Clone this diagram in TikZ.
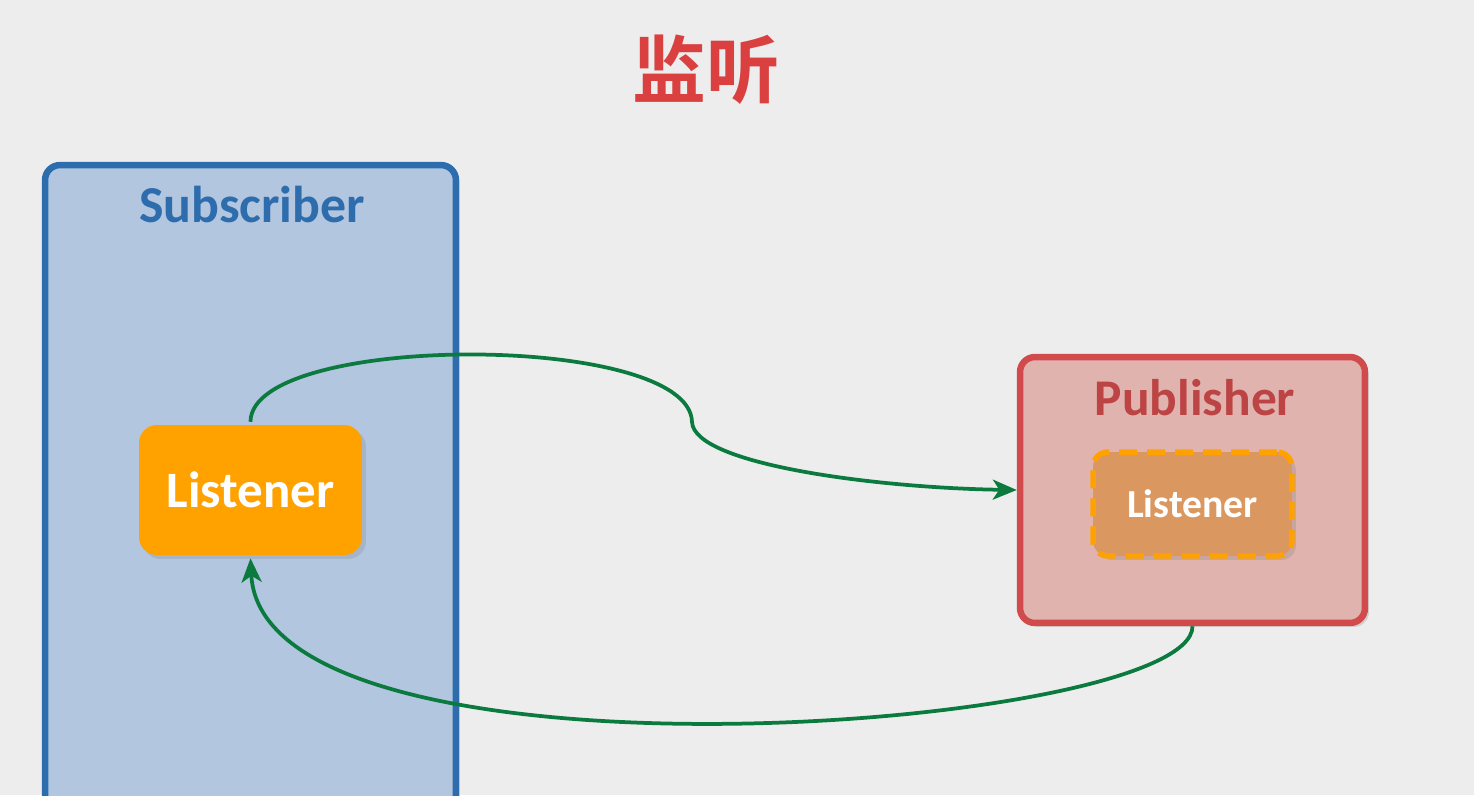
\documentclass[tikz,border=0pt]{standalone}
\usepackage{fontspec}
\setmainfont{Carlito}
\newfontfamily\cjkfont{Noto Sans CJK SC}[BoldFont={* Bold}]
\usetikzlibrary{arrows.meta,shadows}

\definecolor{bgcol}{HTML}{EDEDED}
\definecolor{subfill}{HTML}{B2C6DF}
\definecolor{subline}{HTML}{2E6DAD}
\definecolor{pubfill}{HTML}{E0B3AE}
\definecolor{publine}{HTML}{D24B4C}
\definecolor{lisfill}{HTML}{FFA200}
\definecolor{innerfill}{HTML}{DA9860}
\definecolor{flowcol}{HTML}{0B7A3E}
\definecolor{titlecol}{HTML}{D9403F}

\begin{document}
\begin{tikzpicture}[
		x=0.02cm, y=-0.02cm,
		every node/.style={inner sep=0pt, font=\bfseries},
		box/.style={rectangle, rounded corners=0.3cm, line width=0.13cm,
			drop shadow={opacity=0.25, shadow xshift=0.08cm, shadow yshift=-0.08cm}},
		flow/.style={draw=flowcol, line width=0.075cm,
			-{Stealth[length=0.48cm, width=0.4cm, inset=0.13cm]}}
	]
  \useasboundingbox (0,0) rectangle (1474,795);
  \fill[bgcol] (0,0) rectangle (1474,795);
  \clip (0,0) rectangle (1474,795);
  \node (title) [text=titlecol, font=\cjkfont\bfseries\fontsize{42}{48}\selectfont] at (706,70) {监听};
  \node (sub) [box, draw=subline, fill=subfill, minimum width=8.22cm, minimum height=14.7cm] at (250.5,532.5) {};
  \node (sub_t) [text=subline, font=\bfseries\fontsize{29.5}{33}\selectfont] at (252,205) {Subscriber};
  \node (lis) [box, rounded corners=0.36cm, draw=none, fill=lisfill, minimum width=4.46cm, minimum height=2.6cm,
    text=white, font=\bfseries\fontsize{29}{33}\selectfont] at (250.5,490) {Listener};
  \node (pub) [box, draw=publine, fill=pubfill, minimum width=6.9cm, minimum height=5.32cm] at (1192.5,490) {};
  \node (pub_t) [text=publine!90!black, font=\bfseries\fontsize{29.3}{33}\selectfont] at (1195,398) {Publisher};
  \node (plis) [box, draw=lisfill, fill=innerfill, line width=0.11cm, dash pattern=on 0.36cm off 0.2cm,
    minimum width=3.98cm, minimum height=2.08cm, text=white, font=\bfseries\fontsize{22.6}{26}\selectfont]
    at (1192.5,504) {Listener};
  \coordinate (bend) at (692,422);
  \draw[flow] (lis.north) .. controls (251,332) and (690,332) .. (bend)
    .. controls (694,465) and (880,488) .. (pub.west);
  \draw[flow] (pub.south) .. controls (1193,730) and (262,800) .. (lis.south);
\end{tikzpicture}
\end{document}
